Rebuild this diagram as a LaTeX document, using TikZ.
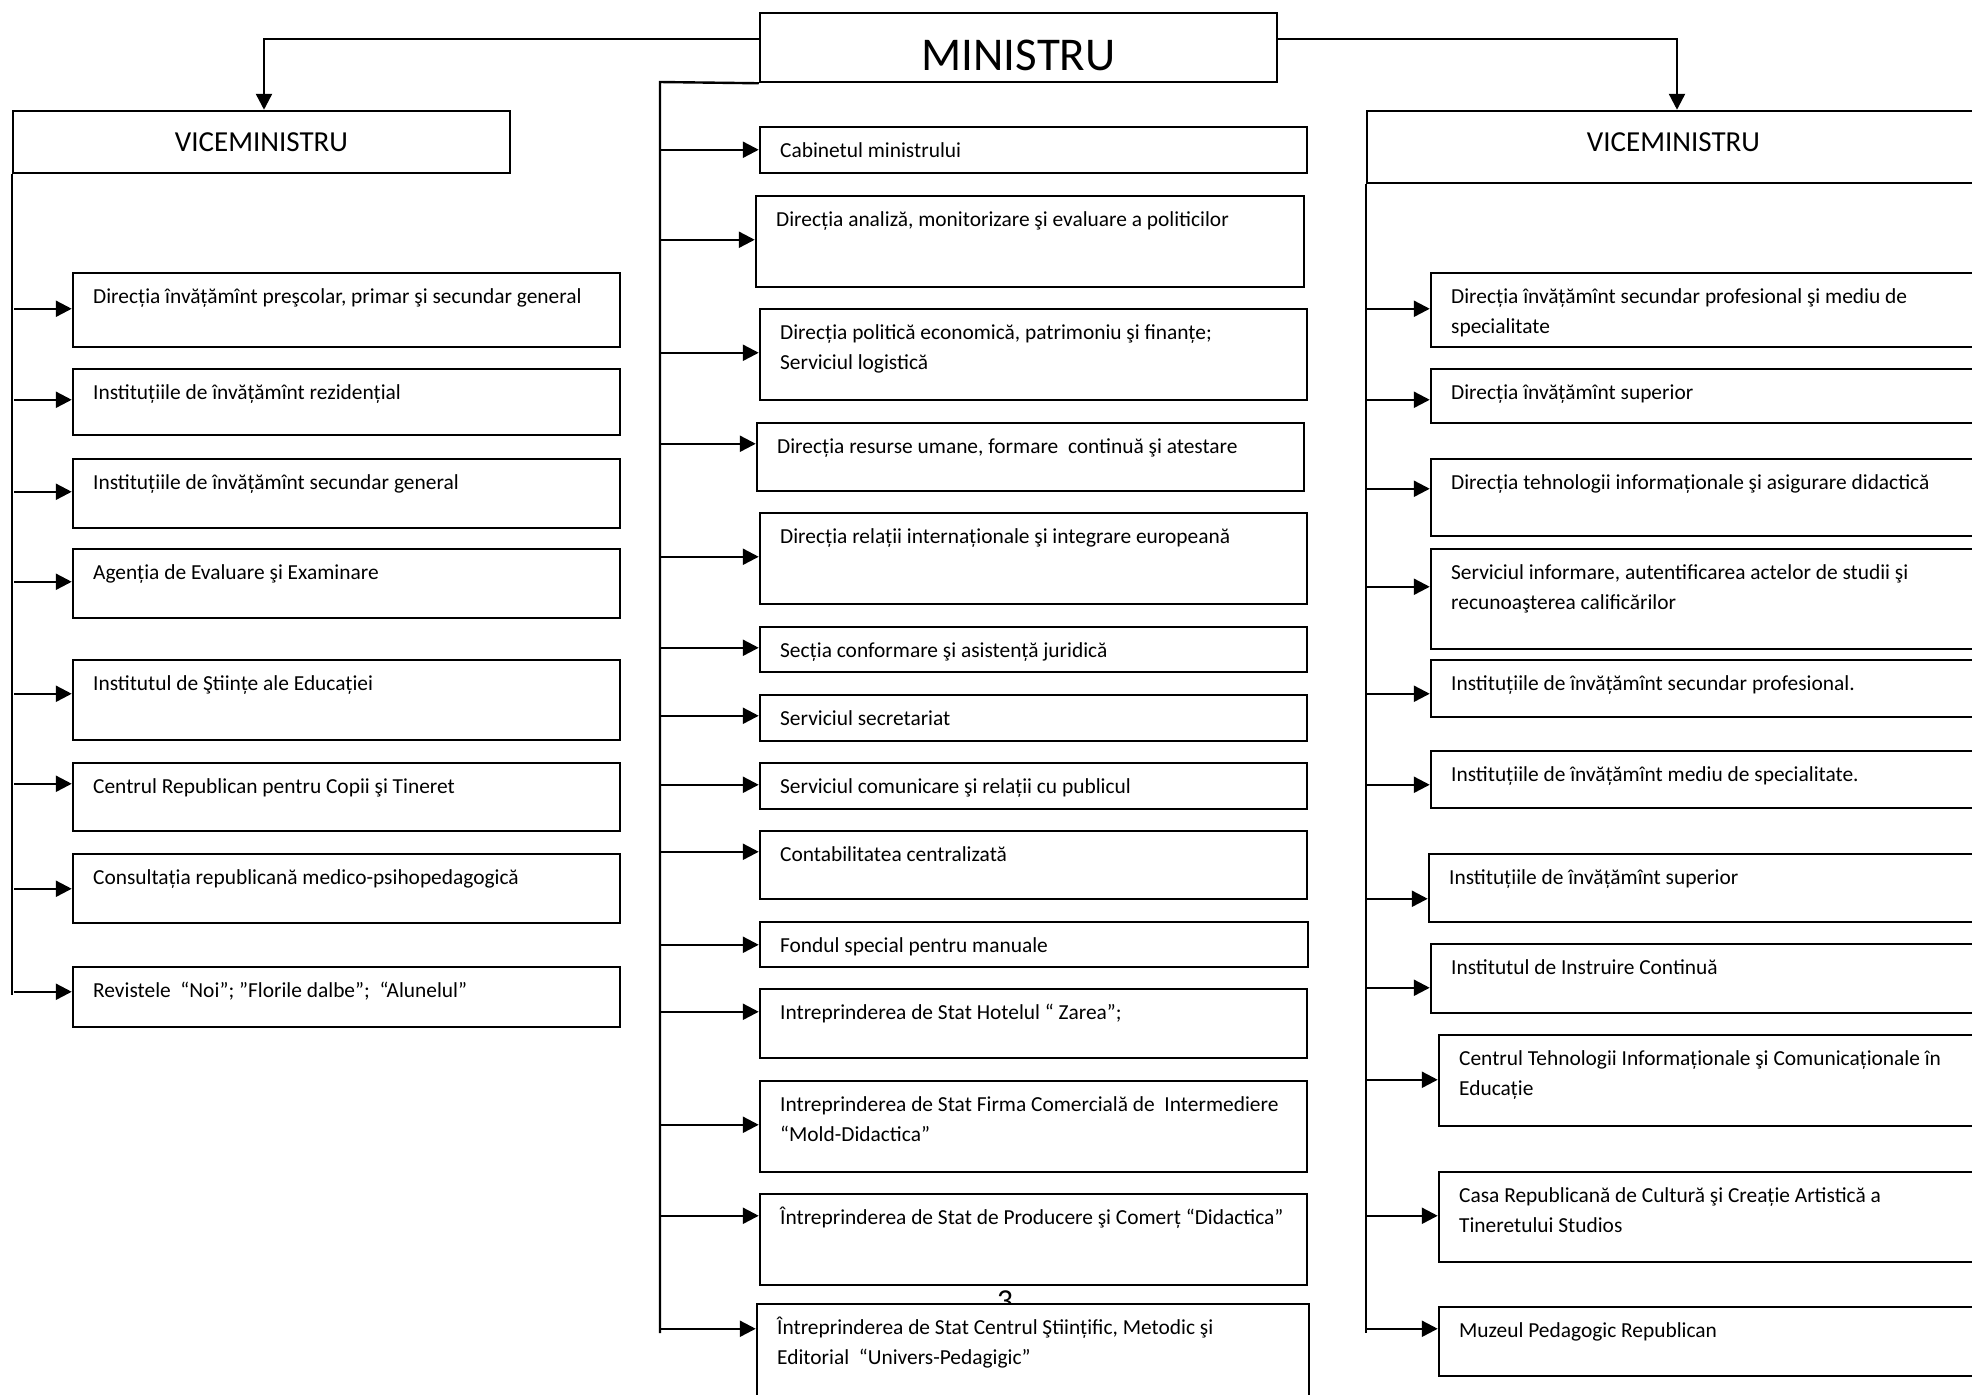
\documentclass[tikz,border=0pt]{standalone}
\usepackage{fontspec}
\setmainfont{Carlito}
\usetikzlibrary{arrows.meta,fit}
\tikzset{
  box/.style={draw, line width=1.25pt, fill=white, inner sep=0pt},
  txt/.style={anchor=north west, inner sep=0pt, align=left, font=\fontsize{10.7}{15}\selectfont},
  arr/.style={line width=1.2pt, -{Triangle[length=8pt,width=8pt]}},
  ln/.style={line width=1.2pt},
  big/.style={anchor=base, inner sep=0pt, font=\fontsize{23.5}{28}\selectfont},
  vice/.style={anchor=base, inner sep=0pt, font=\fontsize{14.5}{17}\selectfont},
}
\newcommand\bx[6]{%
  \node[box, fit={(#2,#3) (#4,#5)}] (#1) {};
  \node[txt] (#1t) at ([xshift=10.5pt,yshift=-5pt]#1.north west) {\strut #6};}
\newcommand\br[3]{%
  \coordinate (#2a) at ([yshift=-#3*0.5pt]#2.north west);
  \draw[arr] (#1 |- #2a) -- (#2a);}
\begin{document}
\begin{tikzpicture}[x=0.5pt,y=-0.5pt]
\useasboundingbox (0,0) rectangle (1972,1394);
\fill[white] (0,0) rectangle (1972,1394);
\clip (0,0) rectangle (1972,1394);

% page number partly hidden by the last box
\node[anchor=base, inner sep=0pt, font=\fontsize{16}{18}\selectfont] (pg) at (1005,1311) {3};

% top level
\node[box, fit={(760,13) (1277,82)}] (mini) {};
\node[big] (minit) at (1018.5,70) {MINISTRU};
\node[box, fit={(13,111) (510,173)}] (viceL) {};
\node[vice] (viceLt) at (261.5,151) {VICEMINISTRU};
\node[box, fit={(1367,111) (1980,183)}] (viceR) {};
\node[vice] (viceRt) at (1673.5,151) {VICEMINISTRU};

% left column
\bx{L1}{73}{273}{620}{347}{Direcția învățămînt preşcolar, primar şi secundar general}
\bx{L2}{73}{369}{620}{435}{Instituțiile de învățămînt rezidențial}
\bx{L3}{73}{459}{620}{528}{Instituțiile de învățămînt secundar general}
\bx{L4}{73}{549}{620}{618}{Agenția de Evaluare şi Examinare}
\bx{L5}{73}{660}{620}{740}{Institutul de Ştiințe ale Educației}
\bx{L6}{73}{763}{620}{831}{Centrul Republican pentru Copii şi Tineret}
\bx{L7}{73}{854}{620}{923}{Consultația republicană medico-psihopedagogică}
\bx{L8}{73}{967}{620}{1027}{Revistele\ \ “Noi”; ”Florile dalbe”;\ \ “Alunelul”}

% centre column
\bx{C1}{760}{127}{1307}{173}{Cabinetul ministrului}
\bx{C2}{756}{196}{1304}{287}{Direcția analiză, monitorizare şi evaluare a politicilor}
\bx{C3}{760}{309}{1307}{400}{Direcția politică economică, patrimoniu şi finanțe;\\\strut Serviciul logistică}
\bx{C4}{757}{423}{1304}{491}{Direcția resurse umane, formare\ \ continuă şi atestare}
\bx{C5}{760}{513}{1307}{604}{Direcția relații internaționale şi integrare europeană}
\bx{C6}{760}{627}{1307}{672}{Secția conformare şi asistență juridică}
\bx{C7}{760}{695}{1307}{741}{Serviciul secretariat}
\bx{C8}{760}{763}{1307}{809}{Serviciul comunicare şi relații cu publicul}
\bx{C9}{760}{831}{1307}{899}{Contabilitatea centralizată}
\bx{C10}{760}{922}{1308}{967}{Fondul special pentru manuale}
\bx{C11}{760}{989}{1307}{1058}{Intreprinderea de Stat Hotelul “ Zarea”;}
\bx{C12}{760}{1081}{1307}{1172}{Intreprinderea de Stat Firma Comercială de\ \ Intermediere\\\strut “Mold-Didactica”}
\bx{C13}{760}{1194}{1307}{1285}{Întreprinderea de Stat de Producere şi Comerț “Didactica”}
\bx{C14}{757}{1304}{1309}{1420}{Întreprinderea de Stat Centrul Ştiințific, Metodic şi\\\strut Editorial\ \ “Univers-Pedagigic”}

% right column
\bx{R1}{1431}{273}{2000}{347}{Direcția învățămînt secundar profesional şi mediu de\\\strut specialitate}
\bx{R2}{1431}{369}{2000}{423}{Direcția învățămînt superior}
\bx{R3}{1431}{459}{2000}{536}{Direcția tehnologii informaționale şi asigurare didactică}
\bx{R4}{1431}{549}{2000}{649}{Serviciul informare, autentificarea actelor de studii şi\\\strut recunoaşterea calificărilor}
\bx{R5}{1431}{660}{2000}{717}{Instituțiile de învățămînt secundar profesional.}
\bx{R6}{1431}{751}{2000}{808}{Instituțiile de învățămînt mediu de specialitate.}
\bx{R7}{1429}{854}{2000}{922}{Instituțiile de învățămînt superior}
\bx{R8}{1431}{944}{2000}{1013}{Institutul de Instruire Continuă}
\bx{R9}{1439}{1035}{2000}{1126}{Centrul Tehnologii Informaționale şi Comunicaționale în\\\strut Educație}
\bx{R10}{1439}{1172}{2000}{1262}{Casa Republicană de Cultură şi Creație Artistică a\\\strut Tineretului Studios}
\bx{R11}{1439}{1307}{2000}{1376}{Muzeul Pedagogic Republican}

% connectors from the minister
\coordinate (jL) at (264,39);
\coordinate (jR) at (1677,39);
\draw[arr] (mini.west |- jL) -- (jL) -- (jL |- viceL.north);
\draw[arr] (mini.east |- jR) -- (jR) -- (jR |- viceR.north);

% trunks
\coordinate (tL) at (14,995);
\coordinate (tC) at (660,82);
\coordinate (tCe) at (660,1333);
\coordinate (tR) at (1367,1333);
\draw[ln] (viceL.south west) -- (viceL.south west |- tL);
\draw[ln] (mini.south west) -- (tC) -- (tCe);
\draw[ln] (viceR.south west) -- (viceR.south west |- tR);

% branches, left
\br{tL}{L1}{37}
\br{tL}{L2}{32}
\br{tL}{L3}{34}
\br{tL}{L4}{34}
\br{tL}{L5}{35}
\br{tL}{L6}{22}
\br{tL}{L7}{36}
\br{tL}{L8}{26}
% branches, centre
\br{tC}{C1}{24}
\br{tC}{C2}{45}
\br{tC}{C3}{45}
\br{tC}{C4}{22}
\br{tC}{C5}{45}
\br{tC}{C6}{22}
\br{tC}{C7}{22}
\br{tC}{C8}{23}
\br{tC}{C9}{22}
\br{tC}{C10}{24}
\br{tC}{C11}{24}
\br{tC}{C12}{45}
\br{tC}{C13}{23}
\br{tC}{C14}{26}
% branches, right
\br{tR}{R1}{37}
\br{tR}{R2}{32}
\br{tR}{R3}{31}
\br{tR}{R4}{39}
\br{tR}{R5}{35}
\br{tR}{R6}{35}
\br{tR}{R7}{46}
\br{tR}{R8}{45}
\br{tR}{R9}{46}
\br{tR}{R10}{45}
\br{tR}{R11}{23}
\end{tikzpicture}
\end{document}
